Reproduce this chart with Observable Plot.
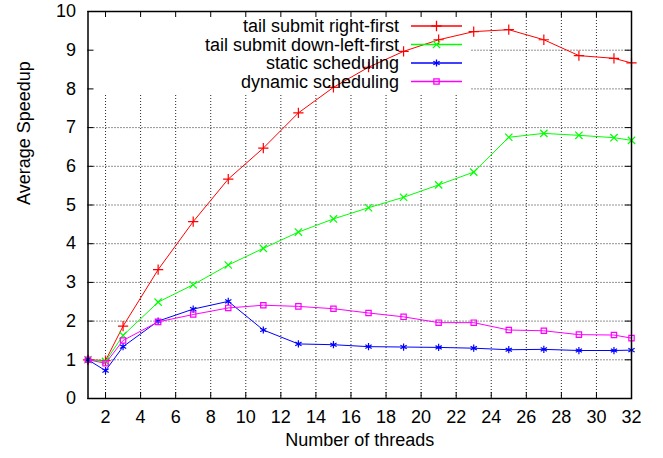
<!DOCTYPE html>
<html>
<head>
<meta charset="utf-8">
<script src="https://cdn.jsdelivr.net/npm/d3@7"></script>
<script src="https://cdn.jsdelivr.net/npm/@observablehq/plot@0.6"></script>
<style>
  html, body { margin: 0; padding: 0; background: #fff; }
</style>
</head>
<body>
<div id="chart"></div>
<script>
// ---- data ----
const threads = [1, 2, 3, 5, 7, 9, 11, 13, 15, 17, 19, 21, 23, 25, 27, 29, 31, 32];
const rightFirst    = [1.00, 0.98, 1.87, 3.33, 4.57, 5.67, 6.47, 7.38, 8.04, 8.56, 8.97, 9.27, 9.48, 9.53, 9.27, 8.86, 8.79, 8.67];
const downLeftFirst = [1.00, 0.96, 1.63, 2.49, 2.94, 3.45, 3.88, 4.30, 4.64, 4.93, 5.20, 5.52, 5.85, 6.75, 6.85, 6.80, 6.74, 6.67];
const staticSched   = [1.00, 0.72, 1.34, 2.00, 2.31, 2.51, 1.77, 1.41, 1.39, 1.34, 1.33, 1.32, 1.30, 1.26, 1.27, 1.24, 1.24, 1.25];
const dynamicSched  = [1.00, 0.91, 1.50, 1.98, 2.17, 2.34, 2.41, 2.38, 2.32, 2.21, 2.11, 1.96, 1.96, 1.77, 1.75, 1.65, 1.64, 1.56];
const seriesNames = ["tail submit right-first", "tail submit down-left-first", "static scheduling", "dynamic scheduling"];
const seriesColors = ["#ff0000", "#00ff00", "#0000ff", "#ff00ff"];
const seriesSymbols = ["plus", "times", "asterisk", "square2"];
const xTicks = [2, 4, 6, 8, 10, 12, 14, 16, 18, 20, 22, 24, 26, 28, 30, 32];
const yTicks = [0, 1, 2, 3, 4, 5, 6, 7, 8, 9, 10];
const xLabel = "Number of threads";
const yLabel = "Average Speedup";

// ---- layout ----
const W = 663, H = 458;
const mL = 87.5, mR = 32, mT = 11, mB = 60;
const frameW = W - mL - mR, frameH = H - mT - mB;
const tickLen = 6;
const FONT = "'Liberation Sans', Arial, Helvetica, sans-serif";
const FS = 18;

const allValues = [rightFirst, downLeftFirst, staticSched, dynamicSched];
const seriesRows = allValues.map((vals, si) => threads.map((t, i) => ({x: t, y: vals[i], s: seriesNames[si]})));

const d3Symbols = {plus: d3.symbolPlus, times: d3.symbolTimes, asterisk: d3.symbolAsterisk, square2: d3.symbolSquare2};
const R = 3.4;

// white key background (as gnuplot key box clears the grid)
function keyBox(index, scales, values, dims) {
  const g = d3.create("svg:g");
  g.append("rect")
    .attr("x", dims.marginLeft + 1)
    .attr("y", dims.marginTop + 1)
    .attr("width", 382)
    .attr("height", 81)
    .attr("fill", "#fff");
  return g.node();
}

function keyEntries(index, scales, values, dims) {
  const g = d3.create("svg:g").attr("font-family", FONT).attr("font-size", FS);
  seriesNames.forEach((name, i) => {
    const y = 26 + i * 18.5;
    g.append("text")
      .attr("x", 399).attr("y", y)
      .attr("dy", "0.35em")
      .attr("text-anchor", "end")
      .attr("fill", "#000")
      .text(name);
    g.append("line")
      .attr("x1", 411).attr("x2", 462)
      .attr("y1", y).attr("y2", y)
      .attr("stroke", seriesColors[i])
      .attr("stroke-width", 1.5);
    g.append("path")
      .attr("d", d3.symbol(d3Symbols[seriesSymbols[i]], R * R * Math.PI)())
      .attr("transform", `translate(436.5,${y})`)
      .attr("fill", "none")
      .attr("stroke", seriesColors[i])
      .attr("stroke-width", 1.3);
  });
  return g.node();
}

const marks = [
  Plot.gridX(xTicks, {stroke: "#000", strokeOpacity: 0.85, strokeDasharray: "1,2"}),
  Plot.gridY(yTicks, {stroke: "#000", strokeOpacity: 0.85, strokeDasharray: "1,2"}),
  keyBox,
  // inward tick marks on all four sides
  Plot.tickX(xTicks, {x: d => d, insetTop: frameH - tickLen, stroke: "#000"}),
  Plot.tickX(xTicks, {x: d => d, insetBottom: frameH - tickLen, stroke: "#000"}),
  Plot.tickY(yTicks, {y: d => d, insetRight: frameW - tickLen, stroke: "#000"}),
  Plot.tickY(yTicks, {y: d => d, insetLeft: frameW - tickLen, stroke: "#000"}),
  Plot.axisX(xTicks, {tickSize: 0, tickPadding: 12, fontSize: FS, label: null}),
  Plot.axisY(yTicks, {tickSize: 0, tickPadding: 12, fontSize: FS, label: null}),
];
seriesRows.forEach((rows, i) => {
  marks.push(Plot.line(rows, {x: "x", y: "y", stroke: seriesColors[i], strokeWidth: 1}));
  marks.push(Plot.dot(rows, {x: "x", y: "y", symbol: seriesSymbols[i], r: R, stroke: seriesColors[i], strokeWidth: 1.2}));
});
marks.push(
  Plot.frame({stroke: "#000", strokeWidth: 1.5}),
  keyEntries,
  Plot.text([xLabel], {text: d => d, frameAnchor: "bottom", dy: 47, fontSize: FS, fill: "#000"}),
  Plot.text([yLabel], {text: d => d, frameAnchor: "left", rotate: -90, dx: -63.5, fontSize: FS, fill: "#000"})
);

const chart = Plot.plot({
  width: W,
  height: H,
  marginLeft: mL,
  marginRight: mR,
  marginTop: mT,
  marginBottom: mB,
  style: {fontFamily: FONT, fontSize: FS + "px", color: "#000", background: "#fff", overflow: "visible"},
  x: {domain: [1, 32], axis: null},
  y: {domain: [0, 10], axis: null},
  marks
});
document.getElementById("chart").appendChild(chart);
</script>
</body>
</html>
